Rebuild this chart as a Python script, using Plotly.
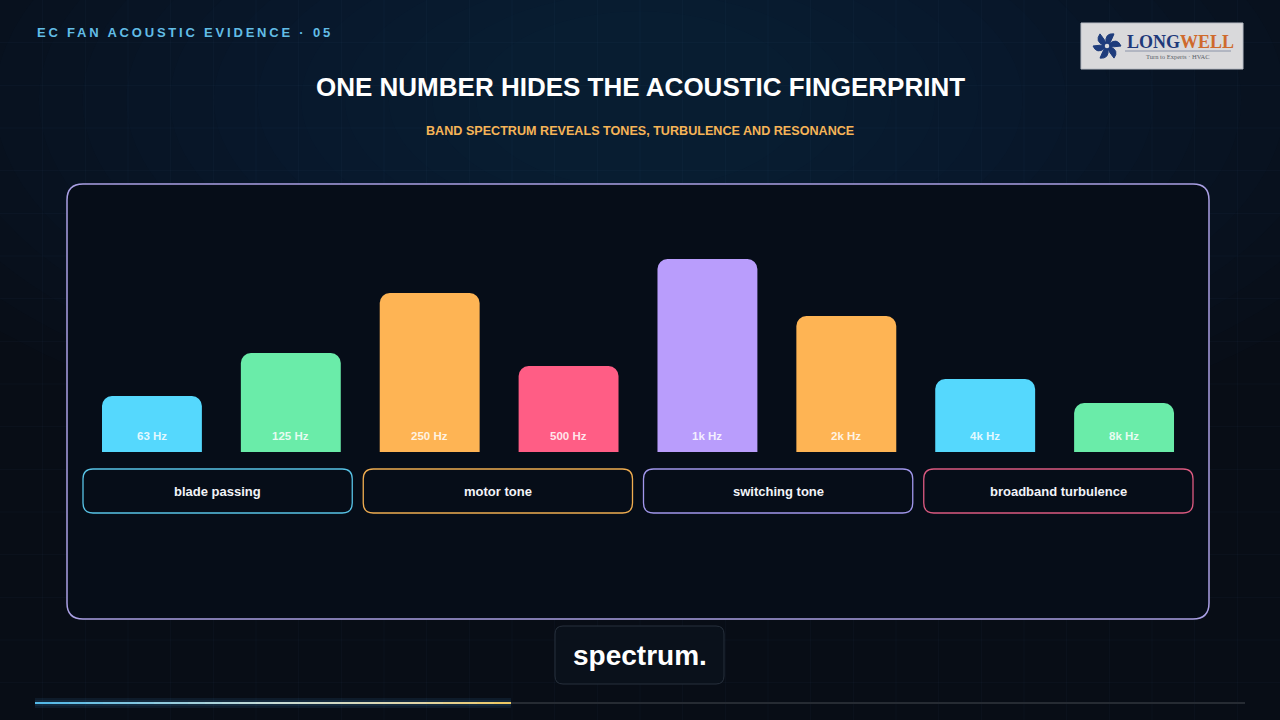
import plotly.graph_objects as go
import numpy as np

# ---------------- data ----------------
bands = ["63 Hz", "125 Hz", "250 Hz", "500 Hz", "1k Hz", "2k Hz", "4k Hz", "8k Hz"]
levels = [56, 99, 159, 86, 193, 136, 73, 49]
bar_colors = ["#55d8fd", "#6aeca9", "#feb454", "#ff5d85", "#b99dfc", "#feb454", "#55d8fd", "#6aeca9"]
groups = ["blade passing", "motor tone", "switching tone", "broadband turbulence"]
group_colors = ["#58c3e6", "#f0ad50", "#a197ec", "#dc5a80"]

header = "EC FAN ACOUSTIC EVIDENCE · 05"
title = "ONE NUMBER HIDES THE ACOUSTIC FINGERPRINT"
subtitle = "BAND SPECTRUM REVEALS TONES, TURBULENCE AND RESONANCE"
caption = "spectrum."

W, H = 1280, 720
FONT = "Liberation Sans, Arial, Helvetica, sans-serif"
SERIF = "Liberation Serif, Times New Roman, serif"


def px(x):
    return x / W


def py(y):
    return 1 - y / H


def rrect(x0, y0, x1, y1, r):
    return (f"M {px(x0 + r)},{py(y0)} L {px(x1 - r)},{py(y0)} "
            f"Q {px(x1)},{py(y0)} {px(x1)},{py(y0 + r)} "
            f"L {px(x1)},{py(y1 - r)} Q {px(x1)},{py(y1)} {px(x1 - r)},{py(y1)} "
            f"L {px(x0 + r)},{py(y1)} Q {px(x0)},{py(y1)} {px(x0)},{py(y1 - r)} "
            f"L {px(x0)},{py(y0 + r)} Q {px(x0)},{py(y0)} {px(x0 + r)},{py(y0)} Z")


shapes = []
annotations = []

# background glow (soft, many faint layers)
nglow = 16
for i in range(nglow):
    f = 1 - i / nglow
    rx, ry = 120 + 700 * f, 70 + 300 * f
    cx, cy = 640, 100
    shapes.append(dict(type="circle", xref="paper", yref="paper",
                       x0=px(cx - rx), x1=px(cx + rx), y0=py(cy + ry), y1=py(cy - ry),
                       fillcolor="rgba(40,75,120,0.022)", line_width=0, layer="below"))

# background grid
step = 1280 / 30
for k in range(1, 30):
    shapes.append(dict(type="line", xref="paper", yref="paper", x0=px(k * step), x1=px(k * step),
                       y0=0, y1=1, line=dict(color="rgba(140,180,220,0.04)", width=1), layer="below"))
for k in range(1, 17):
    shapes.append(dict(type="line", xref="paper", yref="paper", x0=0, x1=1,
                       y0=py(k * step), y1=py(k * step),
                       line=dict(color="rgba(140,180,220,0.04)", width=1), layer="below"))

# main panel
shapes.append(dict(type="path", xref="paper", yref="paper", path=rrect(67, 184, 1209, 619, 16),
                   fillcolor="#060d18", line=dict(color="#aaa0e4", width=1.5), layer="below"))

# group boxes
gx0, gx1, ggap = 83, 1193, 11
gw = (gx1 - gx0 - 3 * ggap) / 4
for i, (g, c) in enumerate(zip(groups, group_colors)):
    x0 = gx0 + i * (gw + ggap)
    shapes.append(dict(type="path", xref="paper", yref="paper", path=rrect(x0, 469, x0 + gw, 513, 10),
                       fillcolor="rgba(0,0,0,0)", line=dict(color=c, width=1.3), layer="below"))
    annotations.append(dict(xref="paper", yref="paper", x=px(x0 + gw / 2), y=py(491), text=g,
                            showarrow=False, font=dict(family=FONT, size=13, color="#f2f4f8", weight="bold"),
                            xanchor="center", yanchor="middle"))

# bar labels
for b in bands:
    annotations.append(dict(xref="x", yref="y", x=b, y=16, text=b, showarrow=False,
                            font=dict(family=FONT, size=11.5, color="rgba(255,255,255,0.85)", weight="bold"),
                            xanchor="center", yanchor="middle"))

# header texts
annotations.append(dict(xref="paper", yref="paper", x=px(35), y=py(33),
                        text=f"<span style='letter-spacing:2.8px'>{header}</span>", showarrow=False,
                        xanchor="left", yanchor="middle",
                        font=dict(family=FONT, size=13, color="#62bde6", weight="bold")))
annotations.append(dict(xref="paper", yref="paper", x=0.5, y=py(87), text=title, showarrow=False,
                        xanchor="center", yanchor="middle",
                        font=dict(family=FONT, size=26, color="#ffffff", weight="bold")))
annotations.append(dict(xref="paper", yref="paper", x=0.5, y=py(131), text=subtitle, showarrow=False,
                        xanchor="center", yanchor="middle",
                        font=dict(family=FONT, size=12.6, color="#f6b457", weight="bold")))

# logo
shapes.append(dict(type="rect", xref="paper", yref="paper", x0=px(1081), x1=px(1243), y0=py(69), y1=py(23),
                   fillcolor="#d9d9db", line=dict(color="#b8bcc4", width=1)))
cx, cy, R = 1107, 46, 14
for k in range(6):
    th = np.deg2rad(k * 60)

    def pt(ang, rad):
        return px(cx + rad * np.cos(ang)), py(cy - rad * np.sin(ang))
    tx, ty = pt(th, R)
    c1x, c1y = pt(th + np.deg2rad(40), R * 0.95)
    c2x, c2y = pt(th - np.deg2rad(15), R * 0.45)
    ox, oy = pt(th + np.deg2rad(50), 3)
    shapes.append(dict(type="path", xref="paper", yref="paper",
                       path=f"M {ox},{oy} Q {c1x},{c1y} {tx},{ty} Q {c2x},{c2y} {px(cx)},{py(cy)} Z",
                       fillcolor="#1e3c7c", line=dict(color="#1e3c7c", width=1)))
shapes.append(dict(type="circle", xref="paper", yref="paper", x0=px(cx - 3), x1=px(cx + 3),
                   y0=py(cy + 3), y1=py(cy - 3), fillcolor="#d9d9db", line=dict(color="#1e3c7c", width=1.5)))
shapes.append(dict(type="line", xref="paper", yref="paper", x0=px(1125), x1=px(1231), y0=py(51), y1=py(51),
                   line=dict(color="#8a93a8", width=1)))
annotations.append(dict(xref="paper", yref="paper", x=px(1125), y=py(42), showarrow=False,
                        text="<span style='color:#1f3a7a'>LONG</span><span style='color:#cf6a2c'>WELL</span>",
                        xanchor="left", yanchor="middle", font=dict(family=SERIF, size=18, weight="bold")))
annotations.append(dict(xref="paper", yref="paper", x=px(1178), y=py(57), showarrow=False,
                        text="Turn to Experts · HVAC", xanchor="center", yanchor="middle",
                        font=dict(family=SERIF, size=6.5, color="#5a5f6a")))

# caption box
shapes.append(dict(type="path", xref="paper", yref="paper", path=rrect(555, 626, 724, 684, 8),
                   fillcolor="#0a111b", line=dict(color="#27303c", width=1)))
annotations.append(dict(xref="paper", yref="paper", x=0.5, y=py(655), text=caption, showarrow=False,
                        xanchor="center", yanchor="middle",
                        font=dict(family=FONT, size=28, color="#ffffff", weight="bold")))

# progress bar
shapes.append(dict(type="rect", xref="paper", yref="paper", x0=px(511), x1=px(1245), y0=py(704), y1=py(702),
                   fillcolor="#262b33", line_width=0))
shapes.append(dict(type="rect", xref="paper", yref="paper", x0=px(35), x1=px(511), y0=py(708), y1=py(698),
                   fillcolor="rgba(70,160,230,0.10)", line_width=0))
shapes.append(dict(type="rect", xref="paper", yref="paper", x0=px(35), x1=px(511), y0=py(706), y1=py(700),
                   fillcolor="rgba(70,160,230,0.10)", line_width=0))
stops = [(0.0, (80, 184, 232)), (0.5, (200, 220, 215)), (0.8, (225, 215, 170)), (1.0, (240, 200, 95))]
nseg = 28
edges = np.round(np.linspace(35, 511, nseg + 1))
for s in range(nseg):
    t = (s + 0.5) / nseg
    for (t0, c0), (t1, c1) in zip(stops[:-1], stops[1:]):
        if t0 <= t <= t1:
            f = (t - t0) / (t1 - t0)
            col = tuple(int(c0[j] + f * (c1[j] - c0[j])) for j in range(3))
    shapes.append(dict(type="rect", xref="paper", yref="paper", x0=px(edges[s]), x1=px(edges[s + 1]),
                       y0=py(704), y1=py(702), fillcolor=f"rgb{col}", line_width=0))

fig = go.Figure(go.Bar(x=bands, y=levels, marker=dict(color=bar_colors, line=dict(width=0)),
                       hoverinfo="skip"))

fig.update_layout(
    width=W, height=H, margin=dict(l=0, r=0, t=0, b=0),
    paper_bgcolor="#080d16", plot_bgcolor="rgba(0,0,0,0)",
    bargap=1 - 100 / 139, barcornerradius=10, showlegend=False,
    xaxis=dict(domain=[82.5 / W, 1193.5 / W], range=[-0.5, 7.5], visible=False, fixedrange=True),
    yaxis=dict(domain=[(H - 452) / H, (H - 212) / H], range=[0, 240], visible=False, fixedrange=True),
    shapes=shapes, annotations=annotations,
)

fig.write_html("out.html", config={"displayModeBar": False},
               post_script="document.body.style.margin='0';document.body.style.overflow='hidden';")
